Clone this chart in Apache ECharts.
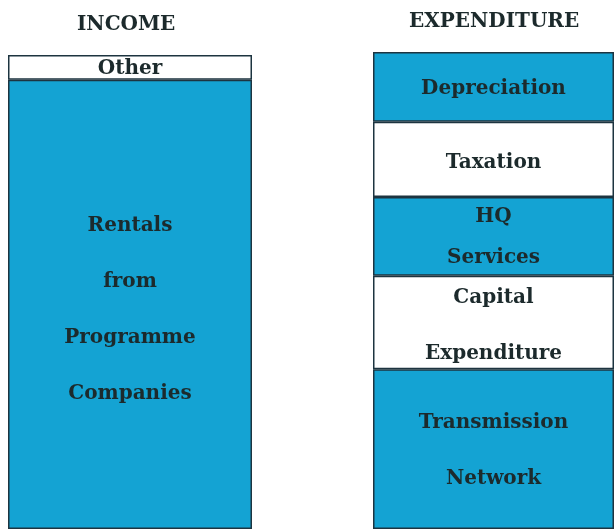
<!DOCTYPE html>
<html>
<head>
<meta charset="utf-8">
<script src="https://cdn.jsdelivr.net/npm/echarts@6/dist/echarts.min.js"></script>
<style>
  html, body { margin: 0; padding: 0; background: #ffffff; }
  #chart { width: 614px; height: 529px; }
</style>
</head>
<body>
<div id="chart"></div>
<script>
(function() {
  // shares of each column (percent of column height)
  var incomeNames = ['Other', 'Rentals\nfrom\nProgramme\nCompanies'];
  var incomeValues = [5.2, 94.8];
  var incomeFills = ['#ffffff', '#14a3d3'];

  var expNames = ['Depreciation', 'Taxation', 'HQ\nServices', 'Capital\n\nExpenditure', 'Transmission\n\nNetwork'];
  var expValues = [14.6, 15.8, 16.5, 19.6, 33.5];
  var expFills = ['#14a3d3', '#ffffff', '#14a3d3', '#ffffff', '#14a3d3'];

  var ink = '#1c2a2c';
  var edge = '#1d3440';
  var font = 'DejaVu Serif';

  function stackSeries(names, values, fills, idx, lineHeights, shifts) {
    return names.map(function(name, i) {
      return {
        name: name,
        type: 'bar',
        stack: 'col' + idx,
        xAxisIndex: idx,
        yAxisIndex: idx,
        barWidth: '100%',
        data: [values[i]],
        itemStyle: { color: fills[i], borderColor: edge, borderWidth: 1.5 },
        label: {
          show: true,
          position: 'inside',
          formatter: name,
          color: ink,
          fontFamily: font,
          fontWeight: 'bold',
          fontSize: 20,
          lineHeight: lineHeights[i],
          offset: [0, shifts[i]],
          align: 'center'
        }
      };
    });
  }

  var chart = echarts.init(document.getElementById('chart'), null, { renderer: 'canvas' });
  chart.setOption({
    animation: false,
    backgroundColor: '#ffffff',
    title: [
      { text: 'INCOME', left: 72, top: 10,
        textStyle: { fontFamily: font, fontWeight: 'bold', fontSize: 20, color: ink } },
      { text: 'EXPENDITURE', left: 404, top: 7,
        textStyle: { fontFamily: font, fontWeight: 'bold', fontSize: 20, color: ink } }
    ],
    grid: [
      { left: 8, top: 55, width: 244, height: 477 },
      { left: 373, top: 52, width: 250, height: 480 }
    ],
    xAxis: [
      { type: 'category', gridIndex: 0, data: ['INCOME'], show: false },
      { type: 'category', gridIndex: 1, data: ['EXPENDITURE'], show: false }
    ],
    yAxis: [
      { type: 'value', gridIndex: 0, min: 0, max: 100, inverse: true, show: false },
      { type: 'value', gridIndex: 1, min: 0, max: 100, inverse: true, show: false }
    ],
    series: stackSeries(incomeNames, incomeValues, incomeFills, 0, [22, 56], [1, 5])
      .concat(stackSeries(expNames, expValues, expFills, 1, [22, 22, 41, 28, 28], [2, 3, 1, 3, 2]))
  });
})();
</script>
</body>
</html>
